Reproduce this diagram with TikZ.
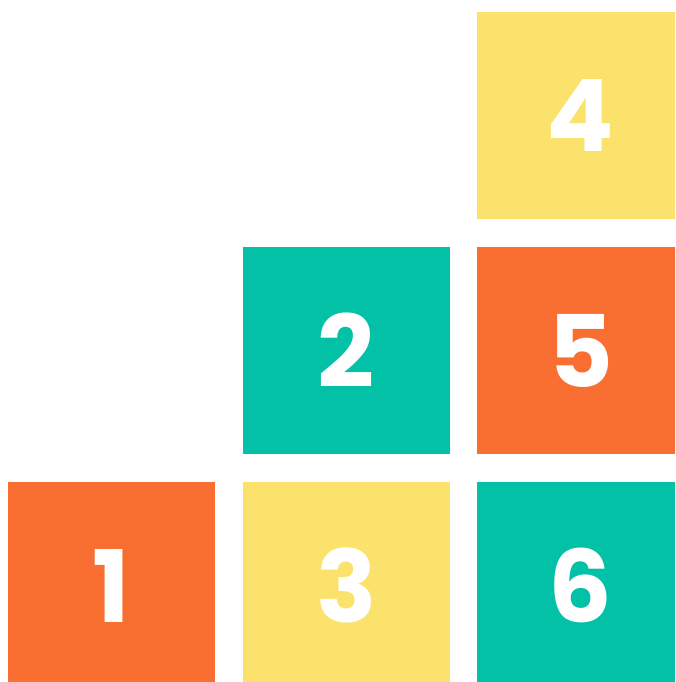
\documentclass[tikz,border=0pt]{standalone}
\usepackage{fontspec}
\newfontfamily\popfont{Poppins}
\definecolor{cOrange}{HTML}{F86F31}
\definecolor{cYellow}{HTML}{FBE26C}
\definecolor{cTeal}{HTML}{03C1A6}
\begin{document}
\begin{tikzpicture}[x=1pt,y=-1pt,
  tile/.style={rectangle,minimum width=207pt,minimum height=207pt,inner sep=0pt,
    text=white,font=\popfont\bfseries\fontsize{100}{100}\selectfont}]
\useasboundingbox (0,0) rectangle (675,682);
\clip (0,0) rectangle (675,682);
\node[tile,fill=cYellow] (t4) at (580.5,115.5) {4};
\node[tile,fill=cTeal] (t2) at (346.5,350.5) {2};
\node[tile,fill=cOrange] (t5) at (580.5,350.5) {5};
\node[tile,fill=cOrange] (t1) at (111.5,585.5) {1};
\node[tile,fill=cYellow] (t3) at (346.5,585.5) {3};
\node[tile,fill=cTeal] (t6) at (580.5,585.5) {6};
\end{tikzpicture}
\end{document}
